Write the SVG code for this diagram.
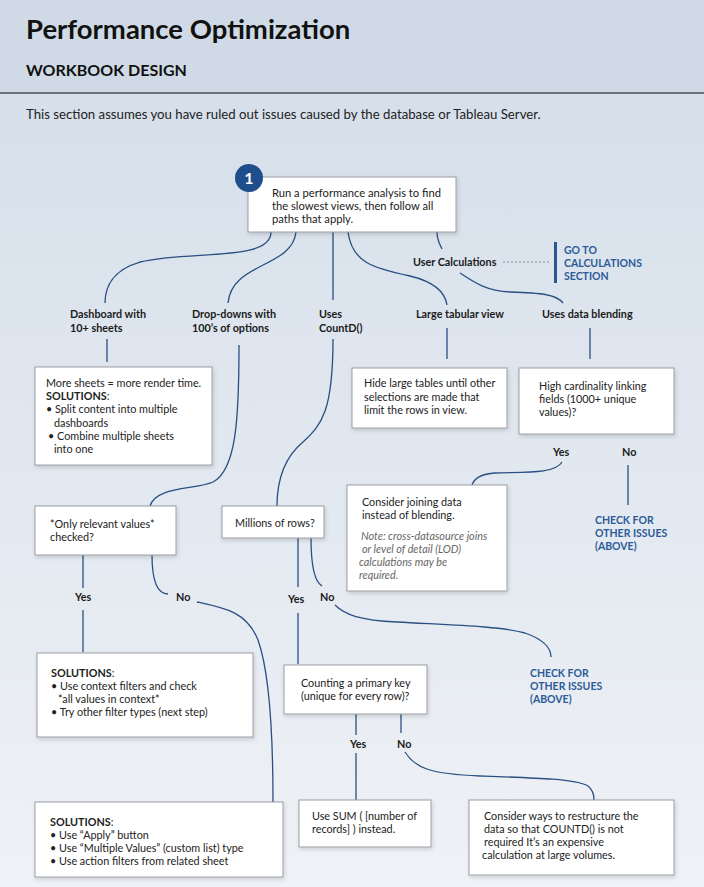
<svg xmlns="http://www.w3.org/2000/svg" width="704" height="887" viewBox="0 0 704 887">
<defs>
<linearGradient id="bg" x1="0" y1="0" x2="0" y2="1">
<stop offset="0" stop-color="#d3dde9"/>
<stop offset="1" stop-color="#eff2f6"/>
</linearGradient>
<filter id="sh" x="-10%" y="-10%" width="120%" height="130%">
<feDropShadow dx="1" dy="2" stdDeviation="2" flood-color="#000" flood-opacity="0.15"/>
</filter>
<style>
text{font-family:Lato,"Liberation Sans",sans-serif;}
.t{font-size:10.8px;fill:#222;}
.lbl{font-size:10.8px;font-weight:700;fill:#1b1b1b;}
.b{font-weight:700;}
.it{font-style:italic;fill:#666;}
.blue{font-size:10.5px;font-weight:700;fill:#2c5b98;}
.box{fill:#fff;stroke:#9a9ea3;stroke-width:1;filter:url(#sh);}
.c{fill:none;stroke:#2a4f82;stroke-width:1.3;}
</style>
</defs>
<rect x="0" y="0" width="704" height="887" fill="url(#bg)"/>
<rect x="0" y="0" width="704" height="93" fill="#cfdae6"/>
<line x1="0" y1="93" x2="704" y2="93" stroke="#4a4d52" stroke-width="1.5"/>
<text x="26" y="39" style="font-size:27.5px;font-weight:700;fill:#111">Performance Optimization</text>
<text x="26" y="76" style="font-size:16px;font-weight:700;fill:#111">WORKBOOK DESIGN</text>
<text x="26" y="119" style="font-size:13.2px;fill:#222">This section assumes you have ruled out issues caused by the database or Tableau Server.</text>

<g id="connectors">
<path class="c" d="M271,232 C271,262 190,250 140,262 C112,270 105,288 105,303"/>
<path class="c" d="M296,232 C292,268 232,262 228,303"/>
<path class="c" d="M333,232 L333,300"/>
<path class="c" d="M348,232 C352,262 372,268 410,276 C435,282 445,292 447,305"/>
<path class="c" d="M437,232 C437,240 440,245 442,249"/>
<line x1="503" y1="262" x2="550" y2="262" stroke="#8a8f96" stroke-width="1" stroke-dasharray="2,2"/>
<path class="c" d="M460,273 C475,283 487,291 510,292 C540,293 556,294 563,303"/>
<path class="c" d="M107,339 L107,362"/>
<path class="c" d="M447,328 L447,359"/>
<path class="c" d="M590,328 L590,359"/>
<path class="c" d="M239,345 C239,420 236,470 213,482 C195,490 156,486 150,506"/>
<path class="c" d="M333,339 C333,410 322,425 303,442 C285,457 277,480 277,506"/>
<path class="c" d="M562,462 C555,474 525,472 495,473 C480,474 474,479 472,485"/>
<path class="c" d="M628,465 L628,505"/>
<path class="c" d="M83,555 L83,588"/>
<path class="c" d="M83,610 L83,652"/>
<path class="c" d="M152,555 C152,582 158,594 168,594"/>
<path class="c" d="M197,602 C225,608 247,612 258,640 C268,668 273,720 273,802"/>
<path class="c" d="M298,538 L298,587"/>
<path class="c" d="M298,613 L298,664"/>
<path class="c" d="M311,538 C311,565 315,582 322,586"/>
<path class="c" d="M335,605 C345,615 360,620 397,622 C450,625 500,626 525,633 C545,640 551,648 551,657"/>
<path class="c" d="M356,714 L356,735"/>
<path class="c" d="M356,753 L356,800"/>
<path class="c" d="M401,714 L401,733"/>
<path class="c" d="M405,752 C415,768 430,774 480,776 C540,778 575,779 588,786 C593,790 594,795 594,800"/>
<rect x="554" y="242" width="3" height="41" fill="#2a5696"/>
</g>

<g id="start">
<rect class="box" x="248" y="177" width="208" height="55"/>
<circle cx="249" cy="178" r="14" fill="#1f4e8c"/>
<text x="249" y="184" text-anchor="middle" style="font-size:16px;font-weight:700;fill:#fff">1</text>
<text class="t" x="272" y="197" style="font-size:11.2px">Run a performance analysis to find</text>
<text class="t" x="272" y="210" style="font-size:11.2px">the slowest views, then follow all</text>
<text class="t" x="272" y="223" style="font-size:11.2px">paths that apply.</text>
</g>

<g id="userCalc">
<text class="lbl" x="413" y="266">User Calculations</text>
<text class="blue" x="564" y="254">GO TO</text>
<text class="blue" x="564" y="267">CALCULATIONS</text>
<text class="blue" x="564" y="280">SECTION</text>
</g>

<g id="labels">
<text class="lbl" x="70" y="318">Dashboard with</text>
<text class="lbl" x="70" y="332">10+ sheets</text>
<text class="lbl" x="192" y="318">Drop-downs with</text>
<text class="lbl" x="192" y="332">100’s of options</text>
<text class="lbl" x="319" y="318">Uses</text>
<text class="lbl" x="319" y="332">CountD()</text>
<text class="lbl" x="416" y="318">Large tabular view</text>
<text class="lbl" x="542" y="318">Uses data blending</text>
</g>

<g id="dashSol">
<rect class="box" x="35" y="367" width="177" height="98"/>
<text class="t" x="46" y="387">More sheets = more render time.</text>
<text class="t b" x="46" y="400">SOLUTIONS<tspan style="font-weight:400">:</tspan></text>
<text class="t" x="46" y="413">• Split content into multiple</text>
<text class="t" x="54" y="427">dashboards</text>
<text class="t" x="48" y="440">•  Combine multiple sheets</text>
<text class="t" x="54" y="453">into one</text>
</g>

<g id="tabular">
<rect class="box" x="352" y="368" width="155" height="60"/>
<text class="t" x="364" y="387">Hide large tables until other</text>
<text class="t" x="364" y="401">selections are made that</text>
<text class="t" x="364" y="414">limit the rows in view.</text>
</g>

<g id="cardinality">
<rect class="box" x="519" y="368" width="155" height="66"/>
<text class="t" x="539" y="390">High cardinality linking</text>
<text class="t" x="539" y="403">fields (1000+ unique</text>
<text class="t" x="539" y="416">values)?</text>
<text class="lbl" x="553" y="456">Yes</text>
<text class="lbl" x="622" y="456">No</text>
</g>

<g id="joining">
<rect class="box" x="347" y="485" width="160" height="106"/>
<text class="t" x="362" y="506">Consider joining data</text>
<text class="t" x="362" y="519">instead of blending.</text>
<text class="t it" x="361" y="540">Note: cross-datasource joins</text>
<text class="t it" x="362" y="553">or level of detail (LOD)</text>
<text class="t it" x="359" y="566">calculations may be</text>
<text class="t it" x="359" y="579">required.</text>
</g>

<g id="check1">
<text class="blue" x="595" y="524">CHECK FOR</text>
<text class="blue" x="595" y="537">OTHER ISSUES</text>
<text class="blue" x="595" y="550">(ABOVE)</text>
</g>

<g id="relevant">
<rect class="box" x="35" y="506" width="141" height="49"/>
<text class="t" x="50" y="528">*Only relevant values*</text>
<text class="t" x="50" y="541">checked?</text>
<text class="lbl" x="75" y="601">Yes</text>
<text class="lbl" x="176" y="601">No</text>
</g>

<g id="millions">
<rect class="box" x="222" y="506" width="102" height="32"/>
<text class="t" x="235" y="527">Millions of rows?</text>
<text class="lbl" x="288" y="603">Yes</text>
<text class="lbl" x="320" y="601">No</text>
</g>

<g id="check2">
<text class="blue" x="530" y="677">CHECK FOR</text>
<text class="blue" x="530" y="690">OTHER ISSUES</text>
<text class="blue" x="530" y="703">(ABOVE)</text>
</g>

<g id="contextSol">
<rect class="box" x="37" y="653" width="216" height="84"/>
<text class="t b" x="51" y="677">SOLUTIONS<tspan style="font-weight:400">:</tspan></text>
<text class="t" x="51" y="690">•  Use context filters and check</text>
<text class="t" x="58" y="703">*all values in context*</text>
<text class="t" x="51" y="716">•  Try other filter types (next step)</text>
</g>

<g id="primaryKey">
<rect class="box" x="284" y="665" width="143" height="49"/>
<text class="t" x="301" y="687">Counting a primary key</text>
<text class="t" x="301" y="700">(unique for every row)?</text>
<text class="lbl" x="350" y="748">Yes</text>
<text class="lbl" x="397" y="748">No</text>
</g>

<g id="useSum">
<rect class="box" x="299" y="800" width="132" height="47"/>
<text class="t" x="312" y="820">Use SUM ( [number of</text>
<text class="t" x="312" y="833">records] ) instead.</text>
</g>

<g id="restructure">
<rect class="box" x="469" y="800" width="205" height="75"/>
<text class="t" x="484" y="820">Consider ways to restructure the</text>
<text class="t" x="484" y="833">data so that COUNTD() is not</text>
<text class="t" x="484" y="846">required It’s an expensive</text>
<text class="t" x="482" y="859">calculation at large volumes.</text>
</g>

<g id="filterSol">
<rect class="box" x="35" y="802" width="248" height="75"/>
<text class="t b" x="50" y="826">SOLUTIONS<tspan style="font-weight:400">:</tspan></text>
<text class="t" x="50" y="839">•  Use “Apply” button</text>
<text class="t" x="50" y="852">•  Use “Multiple Values” (custom list) type</text>
<text class="t" x="50" y="865">•  Use action filters from related sheet</text>
</g>
</svg>
